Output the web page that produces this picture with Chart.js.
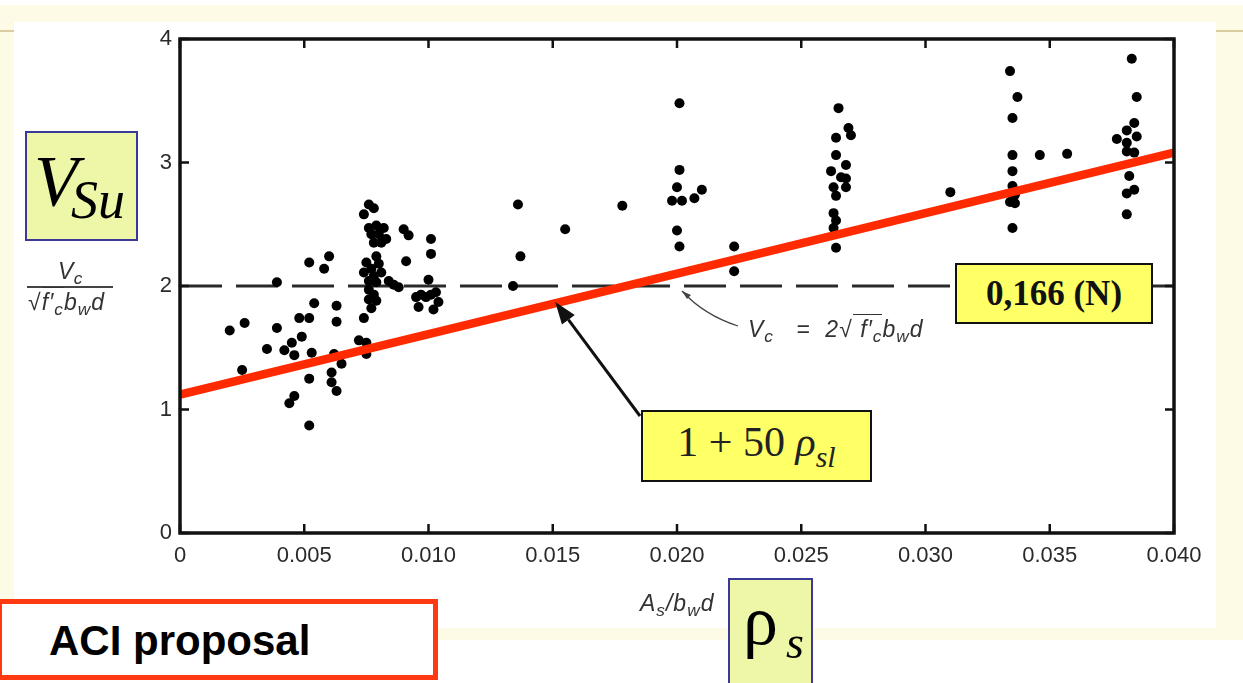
<!DOCTYPE html>
<html>
<head>
<meta charset="utf-8">
<script src="https://cdn.jsdelivr.net/npm/chart.js@4.4.1/dist/chart.umd.min.js"></script>
<style>
  html, body { margin: 0; padding: 0; width: 1243px; height: 683px; overflow: hidden; background: #fff; }
  body { position: relative; font-family: "Liberation Sans", Arial, sans-serif; }
  .abs { position: absolute; }
  #cream { left: 0; top: 5px; width: 1243px; height: 635px; background: #fdfbe6; }
  #scan { left: 14px; top: 22px; width: 1202px; height: 606px; background: #fff; }
  .rule { height: 2px; top: 30px; background: #d8cca0; }
  #chart { left: 0; top: 0; }
  .lbl { font-style: italic; font-size: 23px; color: #333; white-space: nowrap; line-height: 1; letter-spacing: 0.5px; }
  .lbl sub { font-size: 0.75em; vertical-align: -0.3em; line-height: 0; }
  .ov { border-top: 1.5px solid #333; padding-top: 1px; }
  .serif { font-family: "Liberation Serif", "Times New Roman", serif; }
  .ybox { background: #eef6a8; border: 2px solid #3a3a96; box-sizing: border-box; }
  .hbox { background: #ffff66; border: 2px solid #111; box-sizing: border-box;
          display: flex; align-items: center; justify-content: center; white-space: nowrap; }
</style>
</head>
<body>
<div id="cream" class="abs"></div>
<div id="scan" class="abs"></div>
<div class="abs rule" style="left:0;width:14px"></div>
<div class="abs rule" style="left:1216px;width:27px"></div>

<canvas id="chart" class="abs" width="1243" height="683"></canvas>

<!-- y axis title (fraction) -->
<div class="abs lbl" style="left:58px;top:260px">V<sub>c</sub></div>
<div class="abs" style="left:27px;top:286px;width:86px;border-top:2px solid #444"></div>
<div class="abs lbl" style="left:28px;top:291px;letter-spacing:1px">√<span class="ov">f′<sub>c</sub></span>b<sub>w</sub>d</div>

<!-- x axis title -->
<div class="abs lbl" style="left:640px;top:592px;letter-spacing:1px">A<sub>s</sub>/b<sub>w</sub>d</div>

<!-- limit line note -->
<div class="abs lbl" style="left:748px;top:318px;letter-spacing:1px">V<sub>c</sub>&nbsp;&nbsp; = &nbsp;2√<span class="ov">&nbsp;f′<sub>c</sub></span>b<sub>w</sub>d</div>

<!-- V_Su box -->
<div class="abs ybox serif" style="left:25px;top:131px;width:113px;height:110px">
  <span class="abs" style="left:7px;top:12px;font-size:72px;font-style:italic;line-height:1">V</span>
  <span class="abs" style="left:44px;top:40px;font-size:54px;font-style:italic;line-height:1">Su</span>
</div>

<!-- rho_s box -->
<div class="abs ybox serif" style="left:728px;top:578px;width:85px;height:112px">
  <span class="abs" style="left:13px;top:6px;font-size:70px;line-height:1">ρ</span>
  <span class="abs" style="left:56px;top:40px;font-size:46px;font-style:italic;line-height:1">s</span>
</div>

<!-- ACI proposal -->
<div class="abs" style="left:-3px;top:599px;width:441px;height:81px;border:5px solid #ff3a12;box-sizing:border-box;background:#fff">
  <span class="abs" style="left:47px;top:16px;font-size:42px;font-weight:bold;color:#000;line-height:1">ACI proposal</span>
</div>

<!-- 0,166 (N) -->
<div class="abs hbox serif" style="left:955px;top:263px;width:198px;height:61px;font-size:35px;font-weight:bold;color:#111">0,166 (N)</div>

<!-- 1 + 50 rho_sl -->
<div class="abs hbox serif" style="left:641px;top:410px;width:231px;height:72px;font-size:42px;color:#222">
  <span>1 + 50&nbsp;<i>ρ</i><i style="font-size:30px;vertical-align:-0.35em">sl</i></span>
</div>

<script>
// axis ticks
const xTickLabels = ['0', '0.005', '0.010', '0.015', '0.020', '0.025', '0.030', '0.035', '0.040'];
const yTickLabels = ['0', '1', '2', '3', '4'];

// test results, V / (sqrt(f'c) bw d) against As / (bw d)
const testRho = [
  0.0020, 0.0026, 0.0025, 0.0035, 0.0039, 0.0039, 0.0042, 0.0045, 0.0046, 0.0049, 0.0048,
  0.0052, 0.0052, 0.0058, 0.0060, 0.0054, 0.0053, 0.0052, 0.0044, 0.0046, 0.0052, 0.0061,
  0.0061, 0.0063, 0.0065, 0.0062, 0.0063, 0.0063, 0.0072, 0.0075, 0.0075, 0.0074,
  0.0076, 0.0078, 0.0074, 0.0076, 0.0079, 0.0082, 0.0077, 0.0080, 0.0083, 0.0078, 0.0081,
  0.0079, 0.0075, 0.0080, 0.0074, 0.0077, 0.0078, 0.0081, 0.0076, 0.0079, 0.0084, 0.0086,
  0.0088, 0.0076, 0.0078, 0.0076, 0.0079, 0.0077, 0.0090, 0.0092, 0.0091, 0.0101, 0.0101,
  0.0100, 0.0097, 0.0099, 0.0101, 0.0103, 0.0104, 0.0102, 0.0096, 0.0095,
  0.0136, 0.0137, 0.0134, 0.0155, 0.0178, 0.0201, 0.0201, 0.0200, 0.0198, 0.0202, 0.0207,
  0.0210, 0.0200, 0.0201, 0.0223, 0.0223,
  0.0265, 0.0269, 0.0270, 0.0264, 0.0264, 0.0268, 0.0262, 0.0266, 0.0268, 0.0268, 0.0263,
  0.0264, 0.0263, 0.0264, 0.0263, 0.0264,
  0.0334, 0.0337, 0.0335, 0.0335, 0.0335, 0.0335, 0.0336, 0.0334, 0.0336, 0.0335, 0.0310,
  0.0346, 0.0357,
  0.0383, 0.0385, 0.0384, 0.0381, 0.0377, 0.0381, 0.0385, 0.0381, 0.0384, 0.0382, 0.0384,
  0.0381, 0.0381
];
const testV = [
  1.64, 1.70, 1.32, 1.49, 1.66, 2.03, 1.48, 1.54, 1.44, 1.59, 1.74,
  1.74, 2.19, 2.14, 2.24, 1.86, 1.46, 1.25, 1.05, 1.11, 0.87, 1.30,
  1.22, 1.15, 1.37, 1.45, 1.84, 1.71, 1.56, 1.54, 1.45, 1.74,
  2.66, 2.63, 2.58, 2.47, 2.49, 2.47, 2.42, 2.42, 2.38, 2.35, 2.35,
  2.24, 2.19, 2.18, 2.11, 2.14, 2.08, 2.11, 2.04, 2.03, 2.04, 2.01,
  1.99, 1.97, 1.93, 1.89, 1.88, 1.82, 2.46, 2.41, 2.20, 2.38, 2.26,
  2.05, 1.93, 1.91, 1.93, 1.95, 1.87, 1.81, 1.83, 1.91,
  2.66, 2.24, 2.00, 2.46, 2.65, 3.48, 2.94, 2.80, 2.69, 2.69, 2.71,
  2.78, 2.45, 2.32, 2.32, 2.12,
  3.44, 3.28, 3.22, 3.20, 3.06, 2.98, 2.93, 2.88, 2.87, 2.80, 2.80,
  2.73, 2.59, 2.53, 2.47, 2.31,
  3.74, 3.53, 3.36, 3.06, 2.93, 2.81, 2.74, 2.68, 2.67, 2.47, 2.76,
  3.06, 3.07,
  3.84, 3.53, 3.32, 3.26, 3.19, 3.16, 3.21, 3.09, 3.08, 2.89, 2.78,
  2.75, 2.58
];

// ACI proposal 1 + 50 rho (red) and the Vc = 2 sqrt(f'c) bw d limit (dashed)
const aciRho = [0, 0.04];
const aciV = [1.12, 3.08];
const limitRho = [0, 0.04];
const limitV = [2, 2];

// arrow tip on the red line, in data units; tail sits on the yellow box corner (px)
const arrowTip = { x: 0.0151, y: 1.87 };
const arrowTail = { x: 640, y: 416 };

const pts = (xs, ys) => xs.map((x, i) => ({ x, y: ys[i] }));

const frame = {
  id: 'frame',
  afterDatasetsDraw(chart) {
    const { ctx, chartArea: a, scales: { x, y } } = chart;
    ctx.save();
    ctx.strokeStyle = '#111';
    ctx.lineWidth = 3.5;
    ctx.strokeRect(a.left, a.top, a.right - a.left, a.bottom - a.top);
    ctx.lineWidth = 2.5;
    ctx.beginPath();
    x.ticks.forEach((t) => {
      const px = x.getPixelForValue(t.value);
      ctx.moveTo(px, a.bottom); ctx.lineTo(px, a.bottom - 9);
      ctx.moveTo(px, a.top); ctx.lineTo(px, a.top + 9);
    });
    y.ticks.forEach((t) => {
      const py = y.getPixelForValue(t.value);
      ctx.moveTo(a.left, py); ctx.lineTo(a.left + 9, py);
      ctx.moveTo(a.right, py); ctx.lineTo(a.right - 9, py);
    });
    ctx.stroke();

    // leader from the dashed line to its note
    const lx = x.getPixelForValue(0.0202), ly = y.getPixelForValue(2) + 5;
    ctx.lineWidth = 1.3;
    ctx.strokeStyle = '#444';
    ctx.beginPath();
    ctx.moveTo(lx, ly);
    ctx.quadraticCurveTo(lx + 22, ly + 24, lx + 56, ly + 35);
    ctx.stroke();
    ctx.fillStyle = '#444';
    ctx.beginPath();
    ctx.moveTo(lx, ly); ctx.lineTo(lx + 9, ly + 4); ctx.lineTo(lx + 5, ly + 8);
    ctx.closePath(); ctx.fill();

    // arrow to the ACI line
    const tx = x.getPixelForValue(arrowTip.x), ty = y.getPixelForValue(arrowTip.y);
    const ang = Math.atan2(ty - arrowTail.y, tx - arrowTail.x);
    const hl = 22, hw = 8;
    const bx = tx - hl * Math.cos(ang), by = ty - hl * Math.sin(ang);
    ctx.strokeStyle = '#111';
    ctx.fillStyle = '#111';
    ctx.lineWidth = 3;
    ctx.beginPath();
    ctx.moveTo(arrowTail.x, arrowTail.y); ctx.lineTo(bx, by);
    ctx.stroke();
    ctx.beginPath();
    ctx.moveTo(tx, ty);
    ctx.lineTo(bx + hw * Math.sin(ang), by - hw * Math.cos(ang));
    ctx.lineTo(bx - hw * Math.sin(ang), by + hw * Math.cos(ang));
    ctx.closePath(); ctx.fill();
    ctx.restore();
  },
};

const tickFont = { family: '"Liberation Sans", Arial, sans-serif', size: 22 };

new Chart(document.getElementById('chart'), {
  type: 'scatter',
  data: {
    datasets: [
      { type: 'line', data: pts(aciRho, aciV), borderColor: '#ff2a00', borderWidth: 8.5,
        pointRadius: 0, order: 0 },
      { data: pts(testRho, testV), backgroundColor: '#000', borderWidth: 0,
        pointRadius: 5, order: 1 },
      { type: 'line', data: pts(limitRho, limitV), borderColor: '#2a2a2a', borderWidth: 3,
        borderDash: [42, 14], pointRadius: 0, order: 2 },
    ],
  },
  options: {
    responsive: false,
    animation: false,
    events: [],
    layout: { padding: { top: 39, right: 69, left: 0, bottom: 0 } },
    plugins: { legend: { display: false }, tooltip: { enabled: false } },
    scales: {
      x: {
        type: 'linear', min: 0, max: 0.04,
        grid: { display: false, drawTicks: false },
        border: { display: false },
        afterFit: (s) => { s.height = 150; },
        ticks: { stepSize: 0.005, padding: 10, color: '#2a2a2a', font: tickFont,
          maxRotation: 0, autoSkip: false,
          callback: (v, i) => xTickLabels[i] },
      },
      y: {
        min: 0, max: 4,
        grid: { display: false, drawTicks: false },
        border: { display: false },
        afterFit: (s) => { s.width = 180; },
        ticks: { stepSize: 1, padding: 8, color: '#2a2a2a', font: tickFont,
          callback: (v, i) => yTickLabels[i] },
      },
    },
  },
  plugins: [frame],
});
</script>
</body>
</html>
